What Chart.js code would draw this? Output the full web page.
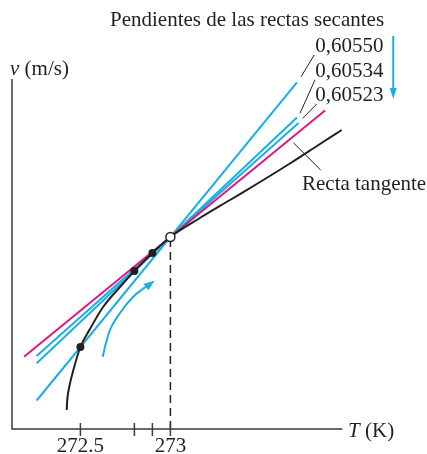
<!DOCTYPE html>
<html>
<head>
<meta charset="utf-8">
<script src="https://cdn.jsdelivr.net/npm/chart.js@4.4.1/dist/chart.umd.min.js"></script>
<style>
  html, body { margin: 0; padding: 0; background: #fff; }
  #wrap { width: 427px; height: 454px; }
</style>
</head>
<body>
<div id="wrap"><canvas id="chart" width="427" height="454"></canvas></div>
<script>
/* Pendientes de las rectas secantes — v(T) cerca de 273 K */

const X_MIN = 272.12, X_MAX = 273.955;
const Y_MIN = 0, Y_MAX = 350;

const INK = '#231f20';
const CYAN = '#1aaee6';
const MAGENTA = '#e5157f';
const SERIF = '"Liberation Serif", "DejaVu Serif", serif';
const FONT_PX = 21;

/* ── DATA ───────────────────────────────────────────────────── */
const curveT = [272.424, 272.427, 272.438, 272.461, 272.5, 272.553, 272.626, 272.72, 272.8, 272.9, 273.0, 273.164, 273.331, 273.498, 273.664, 273.831, 273.952];
const curveV = [19, 29, 42, 59, 82, 100, 122, 142, 158, 176, 192, 211, 229, 247, 265.5, 285, 299];

const pointT = [272.5, 272.8, 272.9];
const pointV = [82, 158, 176];
const openT = 273, openV = 192;

const secantLabels = ['0,60550', '0,60534', '0,60523'];
const secantStartT = [272.257, 272.257, 272.257];
const secantStartV = [28.5, 65.7, 73];
const secantEndT = [273.703, 273.703, 273.712];
const secantEndV = [346.7, 311.5, 305.9];

const tangentT = [272.187, 273.859];
const tangentV = [72.3, 318.5];

const arrowT = [272.624, 272.642, 272.664, 272.72, 272.792, 272.896];
const arrowV = [72.3, 86, 99, 116, 132, 146.3];

const xTicks = [272.5, 272.8, 272.9, 273];
const xTickLabels = ['272.5', '', '', '273'];

/* ── ANNOTATIONS (data coords) ──────────────────────────────── */
const labelPos = [
  { t: 273.805, v: 377 },
  { t: 273.805, v: 352 },
  { t: 273.805, v: 328 }
];
const labelLeaders = [
  [273.799, 374, 273.726, 352.3],
  [273.803, 349, 273.720, 315.7],
  [273.813, 325, 273.735, 310.7]
];
const tangentLeader = [273.683, 286.3, 273.835, 259];

const pts = (ts, vs) => ts.map((t, i) => ({ x: t, y: vs[i] }));

const lineDs = (data, color, extra = {}) => Object.assign({
  data,
  showLine: true,
  borderColor: color,
  borderWidth: 2,
  pointRadius: 0,
  fill: false
}, extra);

const datasets = [
  { data: [{ x: openT, y: openV }], pointRadius: 4.5, pointBackgroundColor: '#fff',
    pointBorderColor: INK, pointBorderWidth: 1.5, order: 0 },
  { data: pts(pointT, pointV), pointRadius: 4, pointBackgroundColor: INK,
    pointBorderColor: INK, pointBorderWidth: 0, order: 1 },
  lineDs(pts(curveT, curveV), INK, { cubicInterpolationMode: 'monotone', order: 3 }),
  lineDs(pts(tangentT, tangentV), MAGENTA, { order: 4 }),
  ...secantLabels.map((_, i) => lineDs(
    [{ x: secantStartT[i], y: secantStartV[i] }, { x: secantEndT[i], y: secantEndV[i] }],
    CYAN, { order: 5 })),
  lineDs(pts(arrowT, arrowV), CYAN, { cubicInterpolationMode: 'monotone', order: 5 }),
  lineDs([{ x: openT, y: Y_MIN }, { x: openT, y: openV }], INK,
    { borderWidth: 1.5, borderDash: [8, 5], order: 6 })
];

function arrowHead(ctx, x1, y1, x2, y2, len, half, color) {
  const a = Math.atan2(y2 - y1, x2 - x1);
  ctx.save();
  ctx.fillStyle = color;
  ctx.translate(x2, y2);
  ctx.rotate(a);
  ctx.beginPath();
  ctx.moveTo(0, 0);
  ctx.lineTo(-len, -half);
  ctx.lineTo(-len, half);
  ctx.closePath();
  ctx.fill();
  ctx.restore();
}

/* ── PLUGIN: axes, labels, leaders ──────────────────────────── */
const annotate = {
  id: 'annotate',
  afterDatasetsDraw(chart) {
    const { ctx, scales: { x, y } } = chart;
    const px = t => x.getPixelForValue(t);
    const py = v => y.getPixelForValue(v);
    const roman = FONT_PX + 'px ' + SERIF;
    const italic = 'italic ' + roman;
    ctx.save();

    // axes
    ctx.strokeStyle = '#3a3a3a';
    ctx.lineWidth = 1.5;
    ctx.beginPath();
    ctx.moveTo(px(X_MIN), py(Y_MAX));
    ctx.lineTo(px(X_MIN), py(Y_MIN));
    ctx.lineTo(px(X_MAX), py(Y_MIN));
    ctx.stroke();

    // tick marks + labels
    ctx.fillStyle = INK;
    ctx.font = roman;
    ctx.textAlign = 'center';
    ctx.textBaseline = 'alphabetic';
    xTicks.forEach((t, i) => {
      ctx.beginPath();
      ctx.moveTo(px(t), py(Y_MIN) - 6);
      ctx.lineTo(px(t), py(Y_MIN) + 7);
      ctx.stroke();
      if (xTickLabels[i]) ctx.fillText(xTickLabels[i], px(t), py(Y_MIN) + 23);
    });

    // axis titles
    ctx.textAlign = 'left';
    let tx = px(273.987), ty = py(Y_MIN) + 8;
    ctx.font = italic;
    ctx.fillText('T', tx, ty);
    tx += ctx.measureText('T').width;
    ctx.font = roman;
    ctx.fillText(' (K)', tx, ty);

    tx = px(272.109); ty = py(354);
    ctx.font = italic;
    ctx.fillText('v', tx, ty);
    tx += ctx.measureText('v').width;
    ctx.font = roman;
    ctx.fillText(' (m/s)', tx, ty);

    // title + slope labels
    ctx.textAlign = 'right';
    ctx.fillText('Pendientes de las rectas secantes', px(274.187), py(403));
    ctx.textAlign = 'left';
    secantLabels.forEach((s, i) => ctx.fillText(s, px(labelPos[i].t), py(labelPos[i].v)));
    ctx.fillText('Recta tangente', px(273.731), py(239));

    // leaders
    ctx.strokeStyle = INK;
    ctx.lineWidth = 1;
    [...labelLeaders, tangentLeader].forEach(l => {
      ctx.beginPath();
      ctx.moveTo(px(l[0]), py(l[1]));
      ctx.lineTo(px(l[2]), py(l[3]));
      ctx.stroke();
    });

    // down arrow (secant slopes decrease)
    const ax = px(274.238);
    ctx.strokeStyle = CYAN;
    ctx.lineWidth = 2;
    ctx.beginPath();
    ctx.moveTo(ax, py(393));
    ctx.lineTo(ax, py(339));
    ctx.stroke();
    arrowHead(ctx, ax, py(393), ax, py(330), 11, 3.5, CYAN);

    // curved arrow head
    const n = arrowT.length;
    arrowHead(ctx, px(arrowT[n - 2]), py(arrowV[n - 2]), px(arrowT[n - 1]) + 3, py(arrowV[n - 1]) - 2.3, 11, 4, CYAN);

    ctx.restore();
  }
};

new Chart(document.getElementById('chart'), {
  type: 'scatter',
  data: { datasets },
  options: {
    responsive: false,
    animation: false,
    devicePixelRatio: 1,
    events: [],
    layout: { padding: { left: 12, right: 84.7, top: 79, bottom: 25 } },
    plugins: { legend: { display: false }, tooltip: { enabled: false } },
    scales: {
      x: { type: 'linear', min: X_MIN, max: X_MAX, display: false },
      y: { type: 'linear', min: Y_MIN, max: Y_MAX, display: false }
    }
  },
  plugins: [annotate]
});
</script>
</body>
</html>
